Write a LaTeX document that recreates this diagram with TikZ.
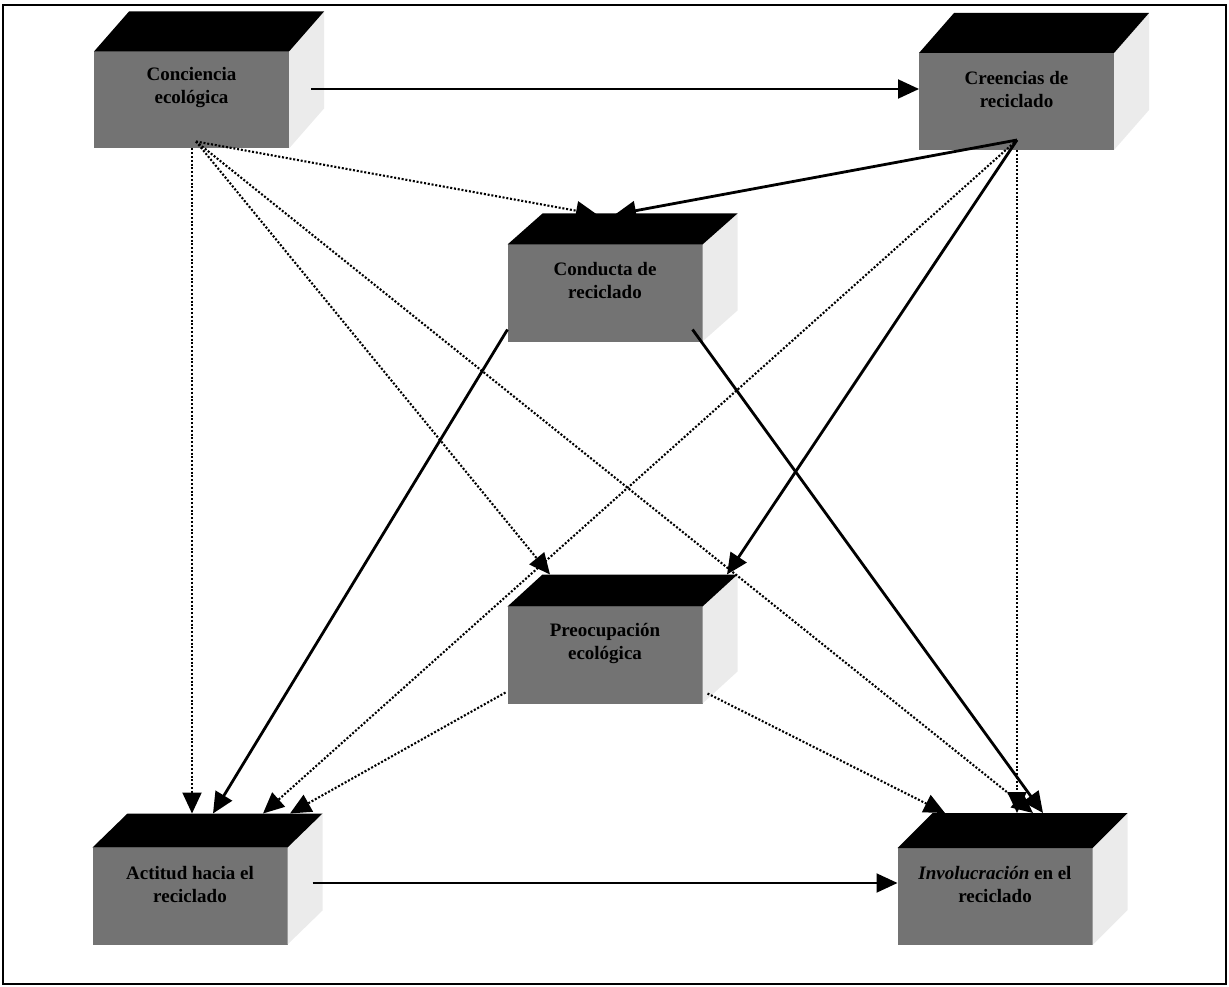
\documentclass[tikz,border=0pt]{standalone}
\usepackage{fontspec}
\setmainfont{Liberation Serif}
\usetikzlibrary{arrows.meta,calc}

% Cuboid: front face node, black top face and light side face.
% #1 name, #2 centre x, #3 centre y, #4 depth (vertical rise of the top)
\newcommand\cuboid[4]{%
  \node[face] (#1) at (#2,#3) {};
  \fill[sideface] (#1.north east) -- ++(35,-#4) -- ++(0,97) -- (#1.south east) -- cycle;
  \fill[black] (#1.north west) -- ++(35,-#4) -- ($(#1.north east)+(35,-#4)$) -- (#1.north east) -- cycle;
}

\begin{document}
\begin{tikzpicture}[x=1pt,y=-1pt,
  face/.style={draw=none, fill=black!55, minimum width=195pt, minimum height=97pt,
    inner sep=0pt, outer sep=0pt},
  sideface/.style={fill=black!8},
  boxlabel/.style={font=\bfseries\fontsize{19}{23}\selectfont, align=center, text=black,
    inner sep=0pt},
  tip/.style={-{Triangle[length=21pt,width=19pt]}},
  causal/.style={tip, line width=2.8pt},
  flow/.style={tip, line width=2pt},
  link/.style={tip, line width=2.1pt, dash pattern=on 2pt off 1.8pt},
]
\useasboundingbox (0,0) rectangle (1229,987);
\draw[line width=1.3pt] (3,5) rectangle (1226,984);

% boxes
\cuboid{ca}{191.5}{100}{40}
\cuboid{cr}{1016.5}{101.5}{40}
\cuboid{cd}{605}{293}{31}
\cuboid{pe}{605}{655}{32}
\cuboid{ac}{190}{896}{34}
\cuboid{in}{995}{896.5}{35}

\node[boxlabel] (ca-t) at ($(ca.center)+(0,-12)$) {Conciencia\\ecológica};
\node[boxlabel] (cr-t) at ($(cr.center)+(0,-12)$) {Creencias de\\reciclado};
\node[boxlabel] (cd-t) at ($(cd.center)+(0,-12)$) {Conducta de\\reciclado};
\node[boxlabel] (pe-t) at ($(pe.center)+(0,-12)$) {Preocupación\\ecológica};
\node[boxlabel] (ac-t) at ($(ac.center)+(0,-12)$) {Actitud hacia el\\reciclado};
\node[boxlabel] (in-t) at ($(in.center)+(0,-12)$) {\textit{Involucración} en el\\reciclado};

% connector ends
\coordinate (ca-o) at ($(ca.south)+(4.5,-7)$);
\coordinate (ca-v) at ($(ca.south)+(0.5,0)$);
\coordinate (ca-h) at ($(ca.east)+(22,-11)$);
\coordinate (cr-o) at ($(cr.south)+(0.5,-10)$);
\coordinate (cr-v) at ($(cr.south)+(0.5,0)$);
\coordinate (cr-h) at ($(cr.west)+(0,-12.5)$);
\coordinate (cd-l) at ($(cd.south west)+(0,-12)$);
\coordinate (cd-r) at ($(cd.south east)+(-10,-12)$);
\coordinate (cd-a) at ($(cd.north)+(-8,-30)$);
\coordinate (cd-b) at ($(cd.north)+(10,-30)$);
\coordinate (pe-l) at ($(pe.south west)+(-2,-11)$);
\coordinate (pe-r) at ($(pe.south east)+(5,-10)$);
\coordinate (pe-a) at ($(pe.north)+(-55,-32)$);
\coordinate (pe-b) at ($(pe.north)+(122,-32)$);
\coordinate (ac-1) at ($(ac.north)+(2,-34)$);
\coordinate (ac-2) at ($(ac.north)+(23,-34)$);
\coordinate (ac-3) at ($(ac.north)+(73,-34)$);
\coordinate (ac-4) at ($(ac.north)+(100,-34)$);
\coordinate (ac-h) at ($(ac.east)+(25,-13)$);
\coordinate (in-1) at ($(in.north)+(-50,-35)$);
\coordinate (in-2) at ($(in.north)+(22,-35)$);
\coordinate (in-3) at ($(in.north)+(38,-35)$);
\coordinate (in-4) at ($(in.north)+(48,-35)$);
\coordinate (in-h) at ($(in.west)+(0,-13.5)$);

% solid paths
\draw[flow] (ca-h) -- (cr-h);
\draw[flow] (ac-h) -- (in-h);
\draw[causal] (cr-o) -- (cd-b);
\draw[causal] (cr-o) -- (pe-b);
\draw[causal] (cd-l) -- (ac-2);
\draw[causal] (cd-r) -- (in-4);

% dotted paths
\draw[link] (ca-o) -- (cd-a);
\draw[link] (ca-v) -- (ac-1);
\draw[link] (ca-o) -- (pe-a);
\draw[link] (ca-o) -- (in-3);
\draw[link] (cr-v) -- (in-2);
\draw[link] (cr-o) -- (ac-3);
\draw[link] (pe-l) -- (ac-4);
\draw[link] (pe-r) -- (in-1);
\end{tikzpicture}
\end{document}
